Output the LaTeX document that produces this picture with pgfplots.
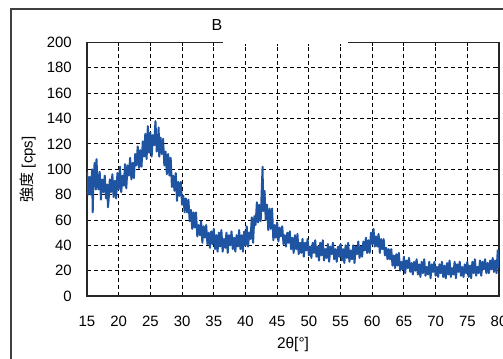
\documentclass[border=0pt]{standalone}
\usepackage{pgfplots}
\pgfplotsset{compat=1.18}
\usepackage{fontspec}
\setmainfont{Liberation Sans}
\newfontfamily\jp{Noto Sans CJK JP}
\definecolor{xrdblue}{RGB}{31,84,162}
\begin{document}
\begin{tikzpicture}[x=1bp,y=1bp]
\path[use as bounding box] (0,0) rectangle (503,358);
\begin{axis}[
  at={(87bp,62bp)}, anchor=south west,
  scale only axis, width=412bp, height=253.5bp,
  xmin=15, xmax=80, ymin=0, ymax=200,
  xtick={15,20,...,80}, ytick={0,20,...,200},
  grid=major,
  major grid style={black, dash pattern=on 4bp off 3bp, line width=0.9bp},
  tick align=inside, major tick length=4bp,
  axis line style={line width=1.3bp, black!85},
  tick style={black, line width=0.9bp},
  ticklabel style={font=\fontsize{15}{17}\selectfont},
  /pgf/number format/assume math mode=true,
  yticklabel style={anchor=east, inner sep=0pt, xshift=-15bp},
  xticklabel style={anchor=north, inner sep=0pt, yshift=-20bp},
  xlabel={2θ[°]},
  ylabel={{\jp 強度} [cps]},
  xlabel style={at={(axis description cs:0.5,-0.1933)}, anchor=center, font=\fontsize{15.5}{17}\selectfont},
  ylabel style={at={(axis description cs:-0.1432,0.5)}, anchor=center, font=\fontsize{15}{17}\selectfont},
]
\addplot[xrdblue, line width=2bp, line join=round] coordinates {
(15.0,98)(15.2,80)(15.4,94)(15.6,80)(15.8,100)(15.9,66)(16.0,87)(16.2,105)(16.4,84)(16.5,108)(16.6,95)(16.8,84)
(17.0,98)(17.2,76)(17.4,92)(17.6,82)(17.8,95)(18.0,77)(18.2,88)(18.3,70)(18.4,75)(18.6,92)(18.8,82)
(19.0,96)(19.2,78)(19.4,91)(19.6,77)(19.8,97)(20.0,84)(20.2,102)(20.4,82)(20.6,95)(20.8,87)
(21.0,104)(21.2,85)(21.4,103)(21.6,95)(21.8,109)(22.0,92)(22.2,105)(22.4,93)(22.6,112)(22.8,103)
(23.0,118)(23.2,101)(23.4,115)(23.6,102)(23.8,122)(24.0,110)(24.2,128)(24.4,108)(24.6,134)(24.8,113)
(25.0,129)(25.2,110)(25.4,127)(25.6,119)(25.8,138)(26.0,114)(26.2,124)(26.3,133)(26.4,110)(26.6,125)(26.8,112)
(27.0,124)(27.2,103)(27.4,114)(27.6,96)(27.8,112)(28.0,95)(28.2,109)(28.4,86)(28.6,95)(28.8,83)
(29.0,97)(29.2,75)(29.4,90)(29.6,79)(29.8,90)(30.0,72)(30.2,79)(30.4,66)(30.6,77)(30.8,66)
(31.0,76)(31.2,59)(31.4,68)(31.6,53)(31.8,66)(32.0,54)(32.2,66)(32.4,47)(32.6,56)(32.8,48)
(33.0,59)(33.2,42)(33.4,55)(33.6,46)(33.8,56)(34.0,41)(34.2,50)(34.4,38)(34.6,51)(34.8,41)
(35.0,53)(35.2,37)(35.4,48)(35.6,35)(35.8,50)(36.0,39)(36.2,52)(36.4,35)(36.6,45)(36.8,38)
(37.0,50)(37.2,34)(37.4,48)(37.6,40)(37.8,51)(38.0,37)(38.2,46)(38.4,35)(38.6,48)(38.8,39)
(39.0,52)(39.2,37)(39.4,48)(39.6,35)(39.8,51)(40.0,40)(40.2,55)(40.4,39)(40.6,50)(40.8,45)
(41.0,62)(41.2,42)(41.4,63)(41.6,56)(41.8,74)(42.0,58)(42.2,72)(42.4,59)(42.6,88)(42.7,102)(42.8,67)
(43.0,83)(43.2,60)(43.4,72)(43.6,52)(43.8,69)(44.0,53)(44.2,69)(44.4,44)(44.6,56)(44.8,46)
(45.0,58)(45.2,43)(45.4,54)(45.6,47)(45.8,55)(46.0,41)(46.2,48)(46.4,39)(46.6,50)(46.8,42)
(47.0,51)(47.2,37)(47.4,46)(47.6,34)(47.8,48)(48.0,37)(48.2,49)(48.4,33)(48.6,42)(48.8,34)
(49.0,45)(49.2,31)(49.4,42)(49.6,36)(49.8,45)(50.0,32)(50.2,39)(50.4,30)(50.6,42)(50.8,34)
(51.0,44)(51.2,31)(51.4,39)(51.6,28)(51.8,42)(52.0,32)(52.2,44)(52.4,28)(52.6,37)(52.8,30)
(53.0,41)(53.2,27)(53.4,39)(53.6,33)(53.8,42)(54.0,29)(54.2,37)(54.4,27)(54.6,39)(54.8,31)
(55.0,41)(55.2,28)(55.4,37)(55.6,26)(55.8,40)(56.0,30)(56.2,42)(56.4,27)(56.6,36)(56.8,29)
(57.0,40)(57.2,26)(57.4,39)(57.6,33)(57.8,43)(58.0,30)(58.2,39)(58.4,31)(58.6,43)(58.8,36)
(59.0,46)(59.2,34)(59.4,44)(59.6,34)(59.8,50)(60.0,41)(60.2,53)(60.4,39)(60.6,47)(60.8,39)
(61.0,49)(61.2,34)(61.4,45)(61.6,37)(61.8,45)(62.0,32)(62.2,38)(62.4,29)(62.6,37)(62.8,29)
(63.0,37)(63.2,24)(63.4,32)(63.6,22)(63.8,33)(64.0,24)(64.2,34)(64.4,20)(64.6,27)(64.8,21)
(65.0,31)(65.2,18)(65.4,28)(65.6,22)(65.8,30)(66.0,19)(66.2,26)(66.4,17)(66.6,27)(66.8,20)
(67.0,29)(67.2,17)(67.4,25)(67.6,15)(67.8,27)(68.0,18)(68.2,29)(68.4,16)(68.6,23)(68.8,17)
(69.0,27)(69.2,14)(69.4,25)(69.6,19)(69.8,27)(70.0,16)(70.2,23)(70.4,15)(70.6,25)(70.8,18)
(71.0,27)(71.2,15)(71.4,24)(71.6,14)(71.8,26)(72.0,17)(72.2,28)(72.4,15)(72.6,22)(72.8,17)
(73.0,27)(73.2,14)(73.4,25)(73.6,19)(73.8,27)(74.0,16)(74.2,23)(74.4,15)(74.6,25)(74.8,18)
(75.0,27)(75.2,15)(75.4,24)(75.6,14)(75.8,27)(76.0,18)(76.2,29)(76.4,16)(76.6,23)(76.8,18)
(77.0,28)(77.2,16)(77.4,27)(77.6,21)(77.8,29)(78.0,18)(78.2,26)(78.4,18)(78.6,28)(78.8,21)
(79.0,30)(79.2,19)(79.4,28)(79.6,18)(79.8,36)(80.0,22)
};
\end{axis}
\node[font=\fontsize{16}{18}\selectfont] at (217,333) {B};
\fill[white] (223,314.5) rectangle (348,342);
\draw[line width=2bp, black!75] (11,348.5) rectangle (560,-40);
\end{tikzpicture}
\end{document}
